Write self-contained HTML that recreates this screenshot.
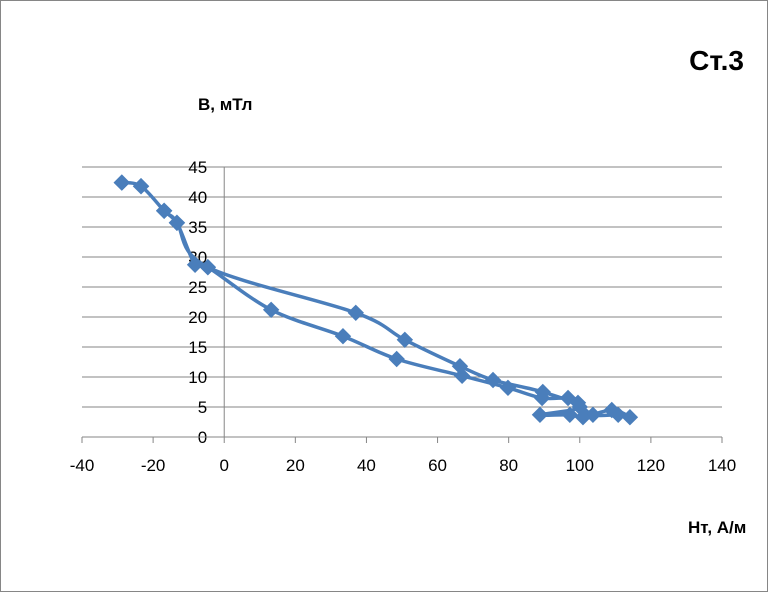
<!DOCTYPE html>
<html><head><meta charset="utf-8"><style>
html,body{margin:0;padding:0;background:#fff;}
svg{display:block;font-family:"Liberation Sans",sans-serif;}
</style></head><body>
<svg id="chart" width="770" height="593" viewBox="0 0 770 593">
<rect x="0.5" y="0.5" width="767" height="591" fill="#fff" stroke="#868686"/>
<text x="744" y="70" text-anchor="end" font-size="28" font-weight="bold">Ст.3</text>
<text x="198" y="110" font-size="17" font-weight="bold">B, мТл</text>
<text x="688" y="533" font-size="17" font-weight="bold">Нт, А/м</text>
<g id="grid"></g><g id="axes"></g><g id="series"></g>
</svg>
<script>
const xTicks=[-40,-20,0,20,40,60,80,100,120,140];
const yTicks=[0,5,10,15,20,25,30,35,40,45];
const hValues=[-28.8,-23.4,-16.9,-13.3,-8.2,-4.6,13.2,33.4,48.5,66.9,79.8,89.4,96.7,99.5,103.7,110.8,114.1,109,100.9,97.2,88.8,100,89.6,75.6,66.3,50.8,37,-4.6,-13.3,-16.9,-23.4,-28.8];
const bValues=[42.4,41.8,37.7,35.7,28.7,28.3,21.2,16.8,13.0,10.2,8.2,6.5,6.5,5.7,3.7,3.7,3.3,4.5,3.3,3.7,3.7,5.0,7.5,9.5,11.8,16.2,20.7,28.3,35.7,37.7,41.8,42.4];
const NS="http://www.w3.org/2000/svg";
const X0=82,X1=722,Y0=437,Y1=167;
function sx(v){return X0+(v-(-40))/(180)*(X1-X0);}
function sy(v){return Y0-(v/45)*(Y0-Y1);}
function mk(t,a,p){const e=document.createElementNS(NS,t);for(const k in a)e.setAttribute(k,a[k]);p.appendChild(e);return e;}
const grid=document.getElementById('grid'),axes=document.getElementById('axes'),ser=document.getElementById('series');
yTicks.forEach(v=>{
  if(v>0){const l=mk('line',{x1:X0,x2:X1,y1:sy(v),y2:sy(v),stroke:'#868686','stroke-width':1},grid);
  
  }
  const t=mk('text',{x:sx(0)-17,y:sy(v)+6,'text-anchor':'end','font-size':17},axes);
  t.textContent=v;
  
  
});
const xa=mk('line',{x1:X0,x2:X1,y1:Y0,y2:Y0,stroke:'#868686'},axes);


const ya=mk('line',{x1:sx(0),x2:sx(0),y1:Y1,y2:Y0,stroke:'#868686'},axes);


xTicks.forEach(v=>{
  const tk=mk('line',{x1:sx(v),x2:sx(v),y1:Y0,y2:Y0+6,stroke:'#868686'},axes);
  
  
  const t=mk('text',{x:sx(v),y:Y0+34,'text-anchor':'middle','font-size':17},axes);
  t.textContent=v;
  
  
});
const pts=hValues.map((h,i)=>[sx(h),sy(bValues[i])]);
let d='M'+pts[0][0]+','+pts[0][1];
for(let i=0;i<pts.length-1;i++){
  const p0=pts[Math.max(0,i-1)],p1=pts[i],p2=pts[i+1],p3=pts[Math.min(pts.length-1,i+2)];
  const c1=[p1[0]+(p2[0]-p0[0])/6,p1[1]+(p2[1]-p0[1])/6],c2=[p2[0]-(p3[0]-p1[0])/6,p2[1]-(p3[1]-p1[1])/6];
  d+=' C'+c1+' '+c2+' '+p2;
}
const line=mk('path',{d:d,fill:'none',stroke:'#4a7ebb','stroke-width':3.5,'stroke-linejoin':'round'},ser);


pts.forEach(p=>{
  const m=mk('path',{d:`M${p[0]},${p[1]-7.5}L${p[0]+7.5},${p[1]}L${p[0]},${p[1]+7.5}L${p[0]-7.5},${p[1]}Z`,fill:'#4a7ebb',stroke:'#4a7ebb'},ser);
  
  
});
</script>
</body></html>
